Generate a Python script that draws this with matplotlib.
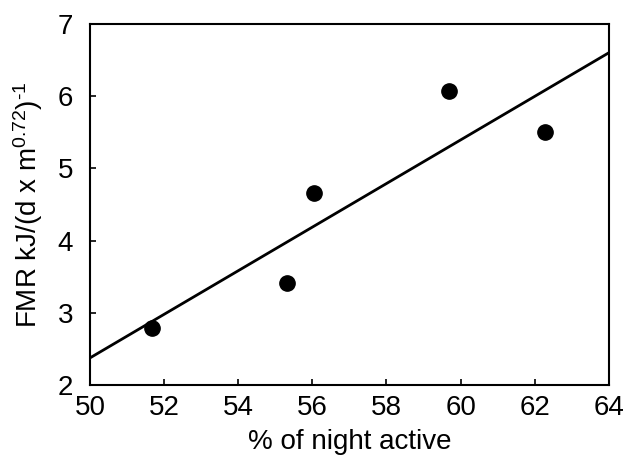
import numpy as np
import matplotlib
matplotlib.use("Agg")
import matplotlib.pyplot as plt

# data
night_active = [51.67, 55.31, 56.04, 59.68, 62.27]
fmr = [2.79, 3.41, 4.66, 6.07, 5.50]
x_ticks = [50, 52, 54, 56, 58, 60, 62, 64]
y_ticks = [2, 3, 4, 5, 6, 7]

plt.rcParams['font.family'] = ['Liberation Sans', 'DejaVu Sans']
plt.rcParams['mathtext.fontset'] = 'custom'
plt.rcParams['mathtext.rm'] = 'Liberation Sans'
plt.rcParams['mathtext.it'] = 'Liberation Sans'

fig = plt.figure(figsize=(6.33, 4.70), dpi=100)
ax = fig.add_axes([0.142, 0.181, 0.820, 0.768])

# regression line over the whole x range
slope, intercept = np.polyfit(night_active, fmr, 1)
xl = np.array([x_ticks[0], x_ticks[-1]])
ax.plot(xl, slope * xl + intercept, color='black', linewidth=2)

ax.plot(night_active, fmr, 'o', color='black', markersize=11)

ax.set_xlim(50, 64)
ax.set_ylim(2, 7)
ax.set_xticks(x_ticks)
ax.set_yticks(y_ticks)
ax.tick_params(direction='in', length=4, width=1.2, labelsize=20)
ax.tick_params(axis='x', pad=7)
ax.tick_params(axis='y', pad=12)
for s in ax.spines.values():
    s.set_linewidth(1.5)

ax.set_xlabel('% of night active', fontsize=20, labelpad=6)
ax.set_ylabel(r'FMR kJ/(d x m$^{0.72}$)$^{\text{-}1}$', fontsize=20, labelpad=9)

fig.savefig('out.png', dpi=100)
